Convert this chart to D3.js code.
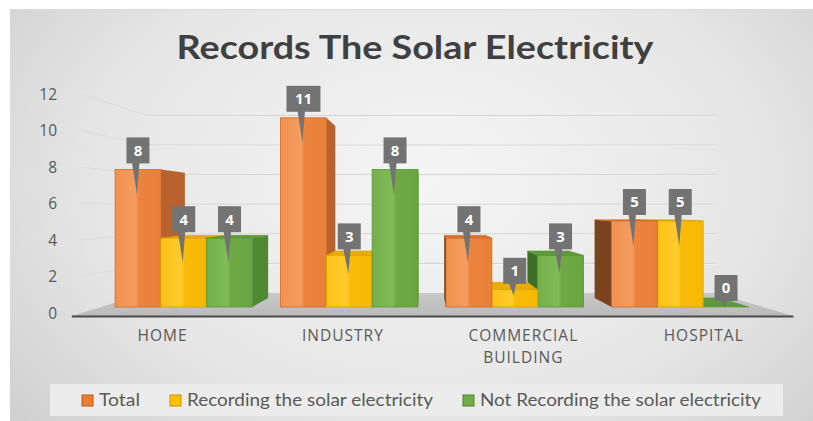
<!DOCTYPE html>
<html>
<head>
<meta charset="utf-8">
<script src="https://cdn.jsdelivr.net/npm/d3@7"></script>
<style>
  html, body { margin: 0; padding: 0; background: #ffffff; }
  svg { display: block; }
</style>
</head>
<body>
<svg id="chart" width="813" height="421"></svg>
<script>
// ---- data ----
const categories = ["HOME", "INDUSTRY", "COMMERCIAL BUILDING", "HOSPITAL"];
const seriesNames = ["Total", "Recording the solar electricity", "Not Recording the solar electricity"];
const totalValues = [8, 11, 4, 5];
const recordingValues = [4, 3, 1, 5];
const notRecordingValues = [4, 8, 3, 0];
const yTicks = [0, 2, 4, 6, 8, 10, 12];
const chartTitle = "Records The Solar Electricity";

const seriesValues = [totalValues, recordingValues, notRecordingValues];

// ---- styles ----
const palette = [
  { front: ["#f2914f", "#f49d60", "#ec843e", "#e9803a"], sideR: "#b8632d", sideL: "#7c4320", top: "#d9742f", edge: "#d26a25", swatch: "#ed7d31", swatchEdge: "#b45a1c" },
  { front: ["#fcc116", "#ffcb2e", "#f9bb0a", "#f7b800"], sideR: "#c99300", sideL: "#9c7300", top: "#e8ad00", edge: "#d9a300", swatch: "#ffc000", swatchEdge: "#c39300" },
  { front: ["#74b04b", "#80bb58", "#6ea944", "#6aa640"], sideR: "#4f8a32", sideL: "#3e6f27", top: "#5f9a3a", edge: "#5a9437", swatch: "#70ad47", swatchEdge: "#4d7f2e" }
];
const legendTextWidths = [41, 246, 281];
const textGray = "#595959";
const labelBoxFill = "#737373";

const svg = d3.select("#chart");
const W = 813, H = 421;

// ---- perspective set-up: a vanishing point and depth factors ----
const vp = { x: 425, y: 207 };
const kBarBack = 0.909;   // back face of the bars
const kWall = 0.86;       // back wall / far edge of the floor
const kFloorFront = 1.09; // near edge of the floor
const kAxisLabels = 1.061;
const project = (x, y, k) => [vp.x + (x - vp.x) * k, vp.y + (y - vp.y) * k];

// scales on the plane of the bars' front faces
const x0 = d3.scaleBand().domain(categories).range([101, 763]).paddingInner(0.17).paddingOuter(0.085);
const x1 = d3.scaleBand().domain(seriesNames).range([0, x0.bandwidth()]);
const y = d3.scaleLinear().domain([0, 12]).range([307, 100.6]);

// ---- background ----
const defs = svg.append("defs");
const bg = defs.append("radialGradient").attr("id", "bg")
  .attr("cx", "0.52").attr("cy", "0.42").attr("r", "0.75")
  .attr("gradientTransform", "translate(0.52,0.42) scale(1,1.35) translate(-0.52,-0.42)");
bg.append("stop").attr("offset", "0").attr("stop-color", "#f5f5f5");
bg.append("stop").attr("offset", "0.55").attr("stop-color", "#e6e6e6");
bg.append("stop").attr("offset", "1").attr("stop-color", "#c9c9c9");

svg.append("rect").attr("x", 10).attr("y", 9).attr("width", W - 10).attr("height", H - 9)
  .attr("fill", "url(#bg)");
svg.append("line").attr("x1", 10).attr("x2", W).attr("y1", 9.5).attr("y2", 9.5)
  .attr("stroke", "#d8d8d8").attr("stroke-width", 1);

// ---- gridlines: left side wall and back wall ----
const xLeft = x0.range()[0], xRight = x0.range()[1];
const grid = svg.append("g");
yTicks.forEach(t => {
  const a = project(xLeft, y(t), kAxisLabels);
  const b = project(xLeft, y(t), kWall);
  const c = project(xRight, y(t), kWall);
  if (t > 0) {
    grid.append("line").attr("x1", a[0]).attr("y1", a[1]).attr("x2", b[0]).attr("y2", b[1])
      .attr("stroke", "#dcdcdc").attr("stroke-width", 1);
    grid.append("line").attr("x1", b[0]).attr("y1", b[1]).attr("x2", c[0]).attr("y2", c[1])
      .attr("stroke", "#d3d3d3").attr("stroke-width", 1);
    grid.append("line").attr("x1", b[0]).attr("y1", b[1] + 1).attr("x2", c[0]).attr("y2", c[1] + 1)
      .attr("stroke", "#f4f4f4").attr("stroke-width", 1).attr("opacity", 0.7);
  }
});

// ---- floor ----
const floorPts = [
  project(xLeft, y(0), kFloorFront),
  project(xLeft, y(0), kWall),
  project(xRight, y(0), kWall),
  project(xRight, y(0), kFloorFront)
];
const floorGrad = defs.append("linearGradient").attr("id", "floor").attr("x1", 0).attr("y1", 0).attr("x2", 0).attr("y2", 1);
floorGrad.append("stop").attr("offset", 0).attr("stop-color", "#c9c9c9");
floorGrad.append("stop").attr("offset", 1).attr("stop-color", "#bababa");
svg.append("polygon").attr("points", floorPts.map(p => p.join(",")).join(" "))
  .attr("fill", "url(#floor)");
svg.append("line")
  .attr("x1", floorPts[0][0]).attr("y1", floorPts[0][1] + 0.5)
  .attr("x2", floorPts[3][0]).attr("y2", floorPts[3][1] + 0.5)
  .attr("stroke", "#4a4a4a").attr("stroke-width", 2);

// ---- y axis labels (on the near edge of the left wall) ----
svg.append("g").selectAll("text").data(yTicks).join("text")
  .attr("x", 57)
  .attr("y", d => project(xLeft, y(d), kAxisLabels)[1])
  .attr("dy", "0.35em")
  .attr("text-anchor", "end")
  .attr("font-family", "'Open Sans', sans-serif")
  .attr("font-size", 15.5)
  .attr("fill", textGray)
  .text(d => d);

// ---- bars ----
palette.forEach((p, i) => {
  const g = defs.append("linearGradient").attr("id", "front" + i).attr("x1", 0).attr("x2", 1).attr("y1", 0).attr("y2", 0);
  g.append("stop").attr("offset", 0).attr("stop-color", p.front[0]);
  g.append("stop").attr("offset", 0.45).attr("stop-color", p.front[1]);
  g.append("stop").attr("offset", 0.52).attr("stop-color", p.front[2]);
  g.append("stop").attr("offset", 1).attr("stop-color", p.front[3]);
});

const bars = [];
categories.forEach((cat, ci) => {
  seriesNames.forEach((s, si) => {
    const v = seriesValues[si][ci];
    const xa = x0(cat) + x1(s);
    const xb = xa + x1.bandwidth();
    bars.push({ cat, s, si, v, xa, xb, yTop: y(v), yBase: y(0) });
  });
});
// paint the bars farthest from the vanishing point first
bars.sort((a, b) => Math.max(Math.abs(b.xa - vp.x), Math.abs(b.xb - vp.x)) - Math.max(Math.abs(a.xa - vp.x), Math.abs(a.xb - vp.x)));

const poly = pts => pts.map(p => p.join(",")).join(" ");
const barLayer = svg.append("g");
bars.forEach(b => {
  const p = palette[b.si];
  const g = barLayer.append("g");
  if (b.xb < vp.x && b.yTop < b.yBase) {
    g.append("polygon").attr("points", poly([
      [b.xb, b.yTop], project(b.xb, b.yTop, kBarBack), project(b.xb, b.yBase, kBarBack), [b.xb, b.yBase]
    ])).attr("fill", p.sideR);
  }
  if (b.xa > vp.x && b.yTop < b.yBase) {
    g.append("polygon").attr("points", poly([
      [b.xa, b.yTop], project(b.xa, b.yTop, kBarBack), project(b.xa, b.yBase, kBarBack), [b.xa, b.yBase]
    ])).attr("fill", p.sideL);
  }
  if (b.yTop > vp.y) {
    g.append("polygon").attr("points", poly([
      [b.xa, b.yTop], [b.xb, b.yTop], project(b.xb, b.yTop, kBarBack), project(b.xa, b.yTop, kBarBack)
    ])).attr("fill", p.top).attr("stroke", p.edge).attr("stroke-width", 0.6);
  }
  if (b.yBase - b.yTop > 0) {
    g.append("rect").attr("x", b.xa).attr("y", b.yTop)
      .attr("width", b.xb - b.xa).attr("height", b.yBase - b.yTop)
      .attr("fill", `url(#front${b.si})`).attr("stroke", p.edge).attr("stroke-width", 0.8);
  }
});

// ---- data labels: grey callouts pointing into each bar ----
const labelLayer = svg.append("g");
bars.forEach(b => {
  const cx = (b.xa + b.xb) / 2;
  const txt = String(b.v);
  const bw = txt.length > 1 ? 34 : 23, bh = 26;
  const boxBottom = b.yTop - 6;
  const tail = Math.min(31, 6 + 0.35 * (b.yBase - b.yTop));
  labelLayer.append("polygon").attr("points", poly([
    [cx - 6, boxBottom - 1], [cx + 1.5, boxBottom - 1], [cx - 1, boxBottom + tail]
  ])).attr("fill", labelBoxFill);
  labelLayer.append("rect").attr("x", cx - bw / 2).attr("y", boxBottom - bh)
    .attr("width", bw).attr("height", bh).attr("fill", labelBoxFill);
  labelLayer.append("text").attr("x", cx).attr("y", boxBottom - bh / 2)
    .attr("dy", "0.36em").attr("text-anchor", "middle")
    .attr("font-family", "'Open Sans', sans-serif").attr("font-weight", 700)
    .attr("font-size", 15).attr("fill", "#ffffff").text(txt);
});

// ---- category labels on the near edge of the floor ----
const catLayer = svg.append("g");
categories.forEach(cat => {
  const cx = project(x0(cat) + x0.bandwidth() / 2, y(0), kFloorFront)[0];
  const lines = cat.split(" ");
  const t = catLayer.append("text").attr("text-anchor", "middle")
    .attr("font-family", "'Open Sans', sans-serif").attr("font-size", 15.5)
    .attr("letter-spacing", "1px").attr("fill", textGray);
  lines.forEach((ln, li) => {
    t.append("tspan").attr("x", cx + 0.5).attr("y", 336 + li * 22).attr("dy", "0.35em").text(ln);
  });
});

// ---- legend ----
svg.append("rect").attr("x", 50).attr("y", 384).attr("width", 733).attr("height", 32).attr("fill", "#ececec");
const legend = svg.append("g");
const legendItems = legend.selectAll("g").data(seriesNames).join("g");
legendItems.append("rect").attr("width", 11).attr("height", 11).attr("y", 395)
  .attr("fill", (d, i) => palette[i].swatch).attr("stroke", (d, i) => palette[i].swatchEdge).attr("stroke-width", 1);
legendItems.append("text").attr("x", 17).attr("y", 400).attr("dy", "0.36em")
  .attr("font-family", "Lato, sans-serif").attr("font-size", 17)
  .attr("textLength", (d, i) => legendTextWidths[i]).attr("lengthAdjust", "spacingAndGlyphs")
  .attr("fill", textGray).text(d => d);
let lx = 82;
legendItems.each(function (d, i) {
  d3.select(this).attr("transform", `translate(${lx},0)`);
  lx += 17 + legendTextWidths[i] + 30;
});

// ---- title ----
svg.append("text").attr("x", 415).attr("y", 48).attr("dy", "0.35em")
  .attr("text-anchor", "middle")
  .attr("font-family", "Lato, 'Open Sans', sans-serif").attr("font-weight", 700)
  .attr("font-size", 32).attr("fill", "#404040")
  .attr("textLength", 477).attr("lengthAdjust", "spacingAndGlyphs")
  .text(chartTitle);
</script>
</body>
</html>
